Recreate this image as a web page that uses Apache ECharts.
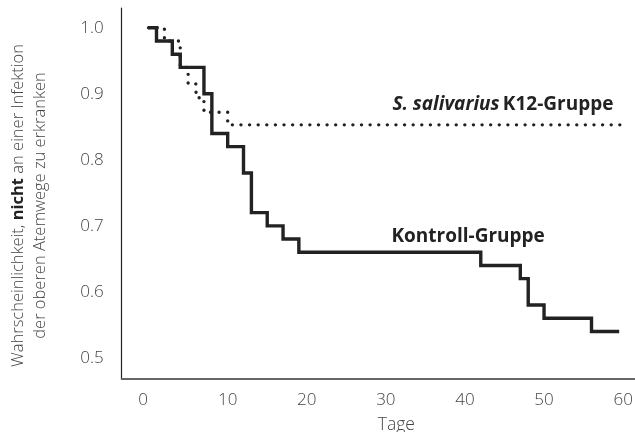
<!DOCTYPE html>
<html>
<head>
<meta charset="utf-8">
<script src="https://cdn.jsdelivr.net/npm/echarts@6/dist/echarts.min.js"></script>
<style>html,body{margin:0;padding:0;background:#fff}#c{width:635px;height:432px}</style>
</head>
<body>
<div id="c"></div>
<script>
// Kaplan-Meier steps: [day, survival probability]
const kontrollDays   = [0, 1, 3, 4, 7, 8, 10, 12, 13, 15, 17, 19, 42, 47, 48, 50, 56, 59.5];
const kontrollValues = [1.0, 0.98, 0.96, 0.94, 0.90, 0.84, 0.82, 0.78, 0.72, 0.70, 0.68, 0.66, 0.64, 0.62, 0.58, 0.56, 0.54, 0.54];
const k12Days   = [0, 2, 4, 5, 6, 7, 10, 60];
const k12Values = [1.0, 0.98, 0.94, 0.915, 0.894, 0.872, 0.853, 0.853];
const xTicks = [0, 10, 20, 30, 40, 50, 60];
const yTicks = [0.5, 0.6, 0.7, 0.8, 0.9, 1.0];
const labelK12 = { name: 'S. salivarius K12-Gruppe', day: 44.8, value: 0.883 };
const labelKontroll = { name: 'Kontroll-Gruppe', day: 40.4, value: 0.683 };

const FONT = '"Open Sans", "Noto Sans", sans-serif';
const zip = (a, b) => a.map((d, i) => [d, b[i]]);

const chart = echarts.init(document.getElementById('c'), null, { renderer: 'canvas' });
chart.setOption({
  animation: false,
  backgroundColor: '#fff',
  grid: { left: 121.7, right: 0, top: 8, bottom: 53, containLabel: false, outerBoundsMode: 'none' },
  xAxis: {
    type: 'value', min: -3.4, max: 61.5,
    name: 'Tage', nameLocation: 'middle', nameGap: 37,
    nameTextStyle: { fontFamily: FONT, fontWeight: 300, fontSize: 17.5, color: '#444', padding: [0, 0, 0, 36] },
    axisLine: { show: true, onZero: false, lineStyle: { color: '#666', width: 2 } },
    axisTick: { show: false },
    splitLine: { show: false },
    axisLabel: {
      customValues: xTicks, margin: 13, fontFamily: FONT, fontWeight: 300, fontSize: 17, color: '#444',
      formatter: v => v === 0 ? '{z|0}' : String(v),
      rich: { z: { fontFamily: FONT, fontWeight: 300, fontSize: 17, color: '#444', padding: [0, 11, 0, 0] } }
    }
  },
  yAxis: {
    type: 'value', min: 0.468, max: 1.030,
    name: '{a|Wahrscheinlichkeit, }{b|nicht}{a| an einer Infektion}\n{a|der oberen Atemwege zu erkranken}',
    nameLocation: 'middle', nameRotate: 90, nameGap: 70,
    nameTextStyle: {
      padding: [0, 24, 0, 0],
      rich: {
        a: { fontFamily: FONT, fontWeight: 300, fontSize: 16.5, color: '#444', lineHeight: 22 },
        b: { fontFamily: FONT, fontWeight: 'bold', fontSize: 16.5, color: '#222', lineHeight: 22 }
      }
    },
    axisLine: { show: true, onZero: false, lineStyle: { color: '#222', width: 1.2 } },
    axisTick: { show: false },
    splitLine: { show: false },
    axisLabel: { customValues: yTicks, margin: 18, formatter: v => v.toFixed(1), fontFamily: FONT, fontWeight: 300, fontSize: 17, color: '#444' }
  },
  series: [
    {
      type: 'line', step: 'end', symbol: 'none', silent: true,
      data: zip(k12Days, k12Values),
      lineStyle: { color: '#222', width: 3.4, type: [0.01, 8.6], cap: 'round' },
      markPoint: {
        symbol: 'rect', symbolSize: 0, silent: true,
        data: [{ coord: [labelK12.day, labelK12.value], value: labelK12.name }],
        label: {
          show: true, position: 'inside',
          formatter: '{i|S. salivarius} {b|K12-Gruppe}',
          rich: {
            i: { fontFamily: FONT, fontWeight: 'bold', fontStyle: 'italic', fontSize: 19, color: '#222' },
            b: { fontFamily: FONT, fontWeight: 'bold', fontSize: 19, color: '#222' }
          }
        }
      }
    },
    {
      type: 'line', step: 'end', symbol: 'none', silent: true,
      data: zip(kontrollDays, kontrollValues),
      lineStyle: { color: '#222', width: 3.4, cap: 'butt', join: 'miter' },
      markPoint: {
        symbol: 'rect', symbolSize: 0, silent: true,
        data: [{ coord: [labelKontroll.day, labelKontroll.value], value: labelKontroll.name }],
        label: {
          show: true, position: 'inside', formatter: labelKontroll.name,
          fontFamily: FONT, fontWeight: 'bold', fontSize: 19, color: '#222'
        }
      }
    }
  ]
});
</script>
</body>
</html>
